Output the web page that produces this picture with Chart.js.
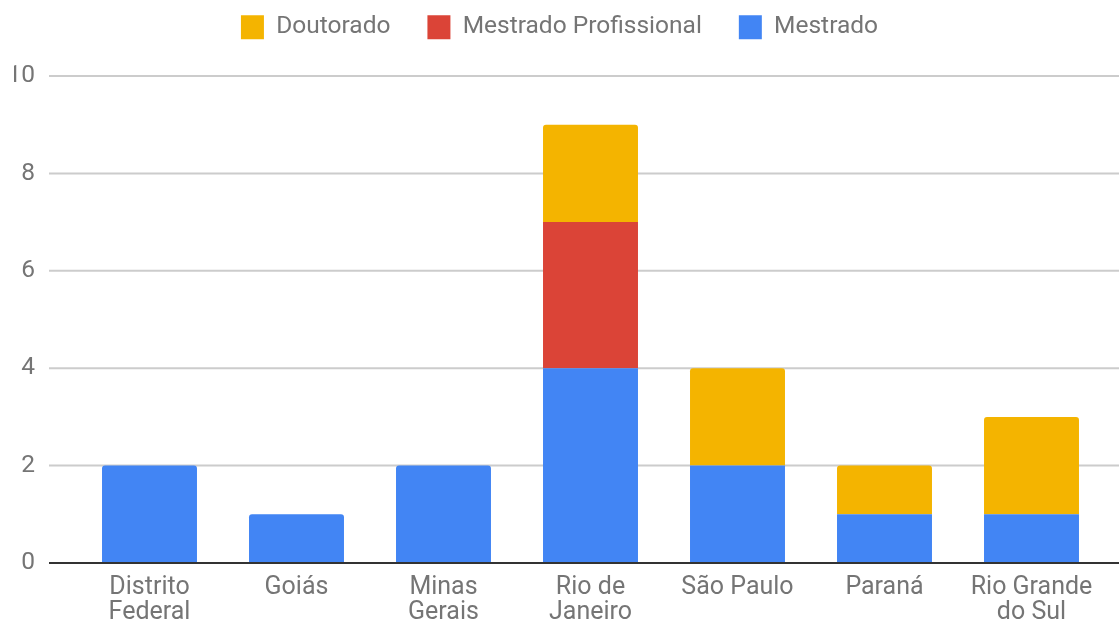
<!DOCTYPE html>
<html>
<head>
<meta charset="utf-8">
<script src="https://cdn.jsdelivr.net/npm/chart.js@4/dist/chart.umd.min.js"></script>
<style>
  html, body { margin: 0; padding: 0; background: #fff; }
  #wrap { width: 1119px; height: 620px; position: relative; }
</style>
</head>
<body>
<div id="wrap"><canvas id="chart"></canvas></div>
<script>
// values
const categories = [
  ['Distrito', 'Federal'],
  'Goiás',
  ['Minas', 'Gerais'],
  ['Rio de', 'Janeiro'],
  'São Paulo',
  'Paraná',
  ['Rio Grande', 'do Sul']
];
const mestrado = [2, 1, 2, 4, 2, 1, 1];
const mestradoProfissional = [0, 0, 0, 3, 0, 0, 0];
const doutorado = [0, 0, 0, 2, 2, 1, 2];
const yMin = 0;
const yMax = 10;
const yStep = 2;

const grey = '#757575';
Chart.defaults.font.family = 'Roboto';
Chart.defaults.font.size = 25;
Chart.defaults.color = grey;

// google-style gridlines run wider than the bars' plot area
const wideGrid = {
  id: 'wideGrid',
  beforeDatasetsDraw(chart) {
    const ctx = chart.ctx;
    const y = chart.scales.y;
    ctx.save();
    ctx.strokeStyle = '#cccccc';
    ctx.lineWidth = 2;
    y.ticks.forEach(t => {
      if (t.value === 0) return;
      const py = y.getPixelForValue(t.value);
      ctx.beginPath();
      ctx.moveTo(49, py);
      ctx.lineTo(chart.width, py);
      ctx.stroke();
    });
    ctx.restore();
  },
  afterDatasetsDraw(chart) {
    const ctx = chart.ctx;
    const py = chart.scales.y.getPixelForValue(0);
    ctx.save();
    ctx.strokeStyle = '#333333';
    ctx.lineWidth = 2;
    ctx.beginPath();
    ctx.moveTo(49, py);
    ctx.lineTo(chart.width, py);
    ctx.stroke();
    ctx.restore();
  }
};

// extra room under the legend
const legendGap = {
  id: 'legendGap',
  afterInit(chart) {
    if (!chart.legend) return;
    const fit = chart.legend.fit;
    chart.legend.fit = function () {
      fit.call(this);
      this.height += 26.5;
    };
  }
};

new Chart(document.getElementById('chart'), {
  type: 'bar',
  data: {
    labels: categories,
    datasets: [
      { label: 'Mestrado', data: mestrado, backgroundColor: '#4285F4' },
      { label: 'Mestrado Profissional', data: mestradoProfissional, backgroundColor: '#DB4437' },
      { label: 'Doutorado', data: doutorado, backgroundColor: '#F4B400' }
    ]
  },
  options: {
    responsive: true,
    maintainAspectRatio: false,
    animation: false,
    layout: { padding: { top: -22, left: 14, right: 14, bottom: 0 } },
    datasets: {
      bar: { barPercentage: 0.646, categoryPercentage: 1, borderRadius: 3 }
    },
    plugins: {
      legend: {
        position: 'top',
        reverse: true,
        labels: {
          boxWidth: 23,
          boxHeight: 24,
          padding: 37,
          color: grey,
          font: { size: 24.5 }
        }
      },
      tooltip: { enabled: false }
    },
    scales: {
      x: {
        stacked: true,
        grid: { display: false, drawTicks: false },
        border: { display: false },
        ticks: { padding: 12, color: grey, font: { size: 25, lineHeight: 1.0 }, maxRotation: 0, autoSkip: false },
        afterFit(scale) { scale.height = 57; }
      },
      y: {
        stacked: true,
        min: yMin,
        max: yMax,
        grid: { display: false, drawTicks: false },
        border: { display: false },
        ticks: { stepSize: yStep, padding: 41, color: grey, font: { size: 24.5 } },
        afterFit(scale) { scale.width = 62; }
      }
    }
  },
  plugins: [wideGrid, legendGap]
});
</script>
</body>
</html>
